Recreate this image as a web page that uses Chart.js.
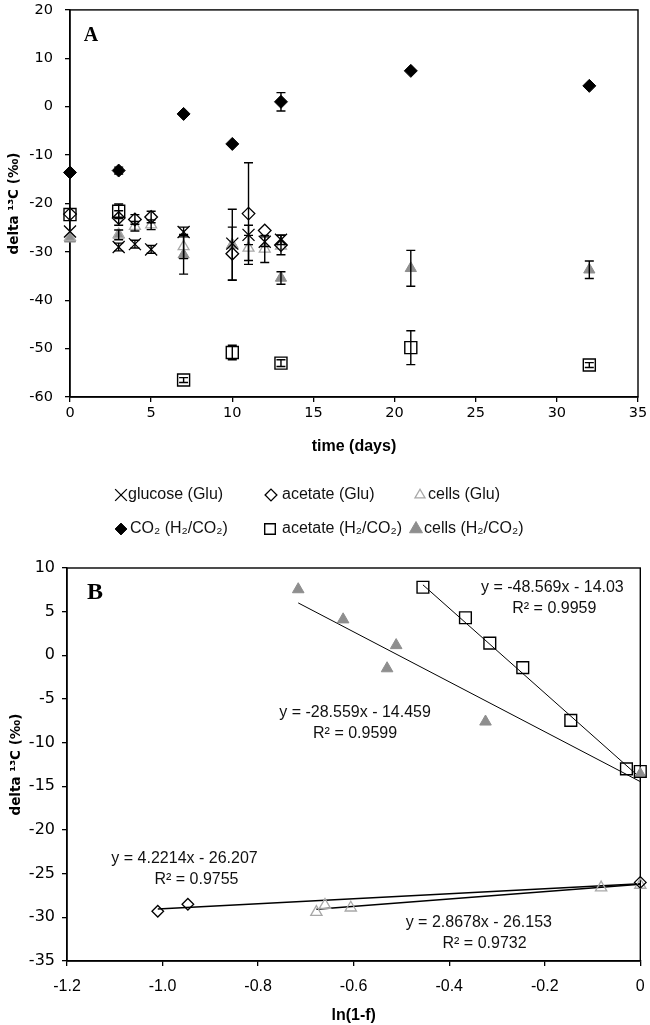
<!DOCTYPE html>
<html>
<head>
<meta charset="utf-8">
<script src="https://cdn.jsdelivr.net/npm/chart.js@4.4.1/dist/chart.umd.min.js"></script>
<style>
  html, body { margin: 0; padding: 0; background: #fff; }
  #wrap { position: relative; width: 650px; height: 1025px; }
  canvas { position: absolute; left: 0; }
  #chartA { top: 0; }
  #chartB { top: 545px; }
</style>
</head>
<body>
<div id="wrap">
  <canvas id="chartA" width="650" height="545"></canvas>
  <canvas id="chartB" width="650" height="480"></canvas>
</div>
<script>
// ---- panel A: delta 13C tegen tijd (dagen) ----
var daysGlu = [0, 3, 4, 5, 7, 10, 11, 12, 13];
var glucoseGlu = [-25.8, -29.0, -28.4, -29.5, -25.9, -28.3, -26.5, -27.9, -27.5];
var glucoseGluErr = [0, 0.8, 0.8, 0.8, 1.0, 0, 2.0, 1.0, 1.0];
var acetateGlu = [-22.2, -23.0, -23.3, -22.8, null, -30.4, -22.1, -25.6, -28.6];
var acetateGluErr = [0, 1.5, 1.0, 1.2, 0, 5.5, 10.5, 0, 2.0];
var cellsGlu = [-27.0, -26.4, -24.7, -24.4, -28.9, -28.6, -29.2, -29.4, -28.8];
var cellsGluErr = [0, 0, 1.0, 1.0, 2.5, 0, 2.6, 2.8, 0];

var daysH2 = [0, 3, 7, 10, 13, 21, 32];
var co2H2 = [-13.6, -13.2, -1.5, -7.7, 1.0, 7.4, 4.3];
var co2H2Err = [0, 0.7, 0, 0, 1.9, 0, 0];
var acetateH2 = [-22.3, -21.6, -56.5, -50.8, -53.0, -49.8, -53.4];
var acetateH2Err = [0, 1.5, 0.5, 1.5, 0.7, 3.5, 0.5];
var cellsH2 = [-27.3, -26.5, -30.6, -28.5, -35.4, -33.4, -33.7];
var cellsH2Err = [0, 1.0, 4.0, 7.3, 1.3, 3.7, 1.8];

var seriesLabels = ['glucose (Glu)', 'acetate (Glu)', 'cells (Glu)',
                    'CO₂ (H₂/CO₂)', 'acetate (H₂/CO₂)', 'cells (H₂/CO₂)'];

// ---- panel B: delta 13C tegen ln(1-f) ----
var lnfAcetateH2 = [-0.455, -0.366, -0.315, -0.246, -0.1455, -0.029, 0];
var deltaAcetateH2 = [7.8, 4.3, 1.4, -1.4, -7.45, -13.0, -13.3];
var lnfCellsH2 = [-0.716, -0.622, -0.511, -0.530, -0.324, 0];
var deltaCellsH2 = [7.55, 4.1, 1.15, -1.5, -7.6, -13.6];
var lnfAcetateGlu = [-1.01, -0.947, 0];
var deltaAcetateGlu = [-29.3, -28.5, -26.0];
var lnfCellsGlu = [-0.678, -0.66, -0.606, -0.082, 0];
var deltaCellsGlu = [-29.4, -28.6, -28.9, -26.6, -26.3];

var trendAcetateH2X = [-0.455, 0], trendAcetateH2Y = [8.07, -14.03];
var trendCellsH2X = [-0.716, 0], trendCellsH2Y = [6.0, -14.46];
var trendAcetateGluX = [-1.01, 0], trendAcetateGluY = [-29.05, -26.15];
var trendCellsGluX = [-0.678, 0], trendCellsGluY = [-29.07, -26.21];

var eqTextsB = ['y = -48.569x - 14.03', 'R² = 0.9959',
                'y = -28.559x - 14.459', 'R² = 0.9599',
                'y = 4.2214x - 26.207', 'R² = 0.9755',
                'y = 2.8678x - 26.153', 'R² = 0.9732'];
// plek van de teksten, in as-eenheden
var eqAnchorsB = [[-0.184, 7.8], [-0.18, 5.3], [-0.597, -6.6], [-0.597, -9.0],
                  [-0.954, -23.3], [-0.929, -25.7], [-0.338, -30.65], [-0.326, -33.05]];

var GRAY = '#8e8e8e';
var LIGHT = '#a8a8a8';
var NONE = 'rgba(0,0,0,0)';
var calibri = 'Liberation Sans';

function punten(xs, ys, errs) {
  // maak {x, y, err} punten van losse arrays
  var out = [];
  for (var i = 0; i < xs.length; i++) {
    if (ys[i] === null) continue;
    out.push({ x: xs[i], y: ys[i], err: errs ? errs[i] : 0 });
  }
  return out;
}

// kader rond het plotgebied
var boxPlugin = {
  id: 'box',
  beforeDatasetsDraw: function (chart) {
    var a = chart.chartArea, ctx = chart.ctx;
    ctx.save();
    ctx.strokeStyle = '#000';
    ctx.lineWidth = 1.4;
    ctx.strokeRect(a.left, a.top, a.right - a.left, a.bottom - a.top);
    ctx.restore();
  }
};

// foutbalken
var errorBarPlugin = {
  id: 'errorBars',
  afterDatasetsDraw: function (chart) {
    var ctx = chart.ctx, xs = chart.scales.x, ys = chart.scales.y;
    ctx.save();
    ctx.strokeStyle = '#000';
    ctx.lineWidth = 1.4;
    chart.data.datasets.forEach(function (ds) {
      ds.data.forEach(function (p) {
        if (!p.err) return;
        var px = xs.getPixelForValue(p.x);
        var top = ys.getPixelForValue(p.y + p.err);
        var bot = ys.getPixelForValue(p.y - p.err);
        ctx.beginPath();
        ctx.moveTo(px, top); ctx.lineTo(px, bot);
        ctx.moveTo(px - 4.5, top); ctx.lineTo(px + 4.5, top);
        ctx.moveTo(px - 4.5, bot); ctx.lineTo(px + 4.5, bot);
        ctx.stroke();
      });
    });
    ctx.restore();
  }
};

// legenda onder panel A, drie kolommen
var legendSymbolX = [121, 271, 420, 121, 270, 416];
var legendTextX = [128, 282, 428, 130, 282, 424];
var legendRowY = [495, 529];
var legendPlugin = {
  id: 'legendGrid',
  afterDraw: function (chart) {
    var ctx = chart.ctx;
    chart.data.datasets.forEach(function (ds, i) {
      var y = legendRowY[Math.floor(i / 3)];
      ctx.save();
      ctx.strokeStyle = ds.borderColor;
      ctx.fillStyle = ds.backgroundColor;
      ctx.lineWidth = ds.borderWidth;
      Chart.helpers.drawPoint(ctx, {
        pointStyle: ds.pointStyle, radius: ds.legendRadius,
        rotation: 0, borderWidth: ds.borderWidth
      }, legendSymbolX[i], y);
      ctx.fillStyle = '#111';
      ctx.font = '16px "' + calibri + '"';
      ctx.textAlign = 'left';
      ctx.textBaseline = 'middle';
      ctx.fillText(ds.label, legendTextX[i], y);
      ctx.restore();
    });
  }
};

// paneelletter A of B
function letterPlugin(letter, dx, dy, size) {
  return {
    id: 'letter' + letter,
    afterDraw: function (chart) {
      var ctx = chart.ctx, a = chart.chartArea;
      ctx.save();
      ctx.fillStyle = '#000';
      ctx.font = 'bold ' + size + 'px "Liberation Serif"';
      ctx.textAlign = 'center';
      ctx.textBaseline = 'middle';
      ctx.fillText(letter, a.left + dx, a.top + dy);
      ctx.restore();
    }
  };
}

// vergelijkingen in panel B
var eqPlugin = {
  id: 'equations',
  afterDatasetsDraw: function (chart) {
    var ctx = chart.ctx, xs = chart.scales.x, ys = chart.scales.y;
    ctx.save();
    ctx.fillStyle = '#111';
    ctx.font = '16px "' + calibri + '"';
    ctx.textAlign = 'center';
    ctx.textBaseline = 'middle';
    for (var i = 0; i < eqTextsB.length; i++) {
      ctx.fillText(eqTextsB[i], xs.getPixelForValue(eqAnchorsB[i][0]), ys.getPixelForValue(eqAnchorsB[i][1]));
    }
    ctx.restore();
  }
};

function fixScale(w, h) {
  // vaste maat voor een as, zonder extra label-padding
  return function (s) {
    if (w !== null) s.width = w;
    if (h !== null) s.height = h;
    s.paddingLeft = 0; s.paddingRight = 0; s.paddingTop = 0; s.paddingBottom = 0;
  };
}

function axisOpts(min, max, step, tickFont, tickPad, title, titleFont, titlePad, fit) {
  return {
    type: 'linear', min: min, max: max,
    ticks: { stepSize: step, color: '#000', font: tickFont, padding: tickPad },
    grid: { drawOnChartArea: false, drawTicks: true, tickLength: 5, color: '#000', lineWidth: 1.3 },
    border: { color: '#000', width: 1.4 },
    title: { display: true, text: title, color: '#000', font: titleFont, padding: titlePad },
    afterFit: fit
  };
}

var dsBase = { clip: false, showLine: false };

var datasetsA = [
  Object.assign({ label: seriesLabels[0], data: punten(daysGlu, glucoseGlu, glucoseGluErr),
    pointStyle: 'crossRot', pointRadius: 8.5, borderColor: '#000', backgroundColor: NONE,
    borderWidth: 1.3, legendRadius: 8.3 }, dsBase),
  Object.assign({ label: seriesLabels[1], data: punten(daysGlu, acetateGlu, acetateGluErr),
    pointStyle: 'rectRot', pointRadius: 6.3, borderColor: '#000', backgroundColor: NONE,
    borderWidth: 1.3, legendRadius: 5.9 }, dsBase),
  Object.assign({ label: seriesLabels[2], data: punten(daysGlu, cellsGlu, cellsGluErr),
    pointStyle: 'triangle', pointRadius: 6.3, borderColor: LIGHT, backgroundColor: NONE,
    borderWidth: 1.3, legendRadius: 5.8 }, dsBase),
  Object.assign({ label: seriesLabels[3], data: punten(daysH2, co2H2, co2H2Err),
    pointStyle: 'rectRot', pointRadius: 6.5, borderColor: '#000', backgroundColor: '#000',
    borderWidth: 1, legendRadius: 5.9 }, dsBase),
  Object.assign({ label: seriesLabels[4], data: punten(daysH2, acetateH2, acetateH2Err),
    pointStyle: 'rect', pointRadius: 8.5, borderColor: '#000', backgroundColor: NONE,
    borderWidth: 1.4, legendRadius: 7.5 }, dsBase),
  Object.assign({ label: seriesLabels[5], data: punten(daysH2, cellsH2, cellsH2Err),
    pointStyle: 'triangle', pointRadius: 6.5, borderColor: GRAY, backgroundColor: GRAY,
    borderWidth: 1, legendRadius: 7.5 }, dsBase)
];

new Chart(document.getElementById('chartA'), {
  type: 'scatter',
  data: { datasets: datasetsA },
  options: {
    responsive: false, animation: false, events: [],
    layout: { padding: { top: 5, right: 12, left: 0, bottom: 85 } },
    plugins: { legend: { display: false }, tooltip: { enabled: false } },
    scales: {
      x: axisOpts(0, 35, 5, { family: 'DejaVu Sans', size: 14.5 }, 2.5,
        'time (days)', { family: calibri, size: 16, weight: 'bold' }, { top: 0, bottom: 4 },
        fixScale(null, 63)),
      y: axisOpts(-60, 20, 10, { family: 'DejaVu Sans', size: 14.5 }, 12,
        'delta ¹³C (‰)', { family: 'DejaVu Sans', size: 13.5, weight: 'bold' }, { top: 6, bottom: 0 },
        fixScale(70, null))
    }
  },
  plugins: [boxPlugin, errorBarPlugin, legendPlugin, letterPlugin('A', 21, 26, 20)]
});

function lijn(xs, ys, width) {
  return {
    type: 'scatter', data: punten(xs, ys), showLine: true, pointRadius: 0,
    borderColor: '#000', borderWidth: width, clip: false
  };
}

var datasetsB = [
  Object.assign({ label: seriesLabels[4], data: punten(lnfAcetateH2, deltaAcetateH2),
    pointStyle: 'rect', pointRadius: 8.3, borderColor: '#000', backgroundColor: NONE,
    borderWidth: 1.4 }, dsBase),
  Object.assign({ label: seriesLabels[5], data: punten(lnfCellsH2, deltaCellsH2),
    pointStyle: 'triangle', pointRadius: 6.7, borderColor: GRAY, backgroundColor: GRAY,
    borderWidth: 1 }, dsBase),
  Object.assign({ label: seriesLabels[1], data: punten(lnfAcetateGlu, deltaAcetateGlu),
    pointStyle: 'rectRot', pointRadius: 5.8, borderColor: '#000', backgroundColor: NONE,
    borderWidth: 1.3 }, dsBase),
  Object.assign({ label: seriesLabels[2], data: punten(lnfCellsGlu, deltaCellsGlu),
    pointStyle: 'triangle', pointRadius: 6.5, borderColor: LIGHT, backgroundColor: NONE,
    borderWidth: 1.3 }, dsBase),
  lijn(trendAcetateH2X, trendAcetateH2Y, 1),
  lijn(trendCellsH2X, trendCellsH2Y, 1),
  lijn(trendAcetateGluX, trendAcetateGluY, 1.6),
  lijn(trendCellsGluX, trendCellsGluY, 1.6)
];

new Chart(document.getElementById('chartB'), {
  type: 'scatter',
  data: { datasets: datasetsB },
  options: {
    responsive: false, animation: false, events: [],
    layout: { padding: { top: 23, right: 8, left: 0, bottom: 0 } },
    plugins: { legend: { display: false }, tooltip: { enabled: false } },
    scales: {
      x: axisOpts(-1.2, 0, 0.2, { family: calibri, size: 16 }, 11,
        'ln(1-f)', { family: calibri, size: 16, weight: 'bold' }, { top: 0, bottom: 0 },
        fixScale(null, 64)),
      y: axisOpts(-35, 10, 5, { family: 'DejaVu Sans', size: 16 }, 7,
        'delta ¹³C (‰)', { family: 'DejaVu Sans', size: 13.5, weight: 'bold' }, { top: 8, bottom: 0 },
        fixScale(67, null))
    }
  },
  plugins: [boxPlugin, eqPlugin, letterPlugin('B', 28, 25, 24)]
});
</script>
</body>
</html>
